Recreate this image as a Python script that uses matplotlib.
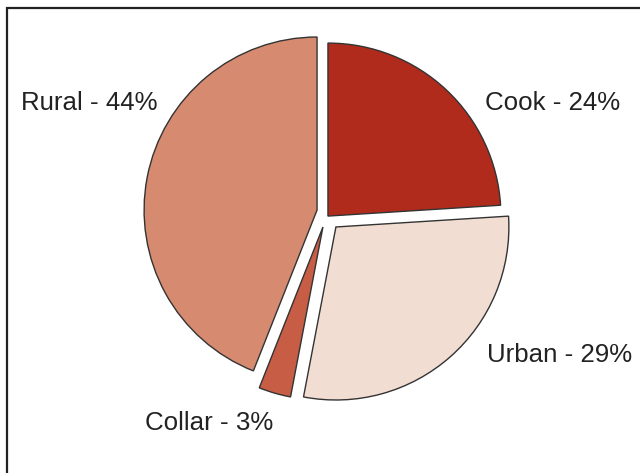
import matplotlib.pyplot as plt
from matplotlib.patches import Rectangle

# data
labels = ["Cook", "Urban", "Collar", "Rural"]
shares = [24, 29, 3, 44]
colors = ["#B02B1C", "#F2DDD3", "#C65D44", "#D68A70"]

# how far each slice is pulled out of the pie (data units, radius = 1)
shift_x = [0.023, 0.069, -0.006, -0.040]
shift_y = [0.017, -0.046, -0.046, 0.052]

# label placement
label_x = [0.93, 0.942, -1.035, -0.96]
label_y = [0.632, -0.827, -1.22, 0.632]
label_ha = ["left", "left", "left", "right"]

plt.rcParams["font.family"] = ["Liberation Sans", "DejaVu Sans"]

fig = plt.figure(figsize=(6.4, 4.73), dpi=100)
ax = fig.add_axes([0, 0, 1, 1])

wedges, _ = ax.pie(shares, colors=colors, startangle=90,
                   counterclock=False, radius=1,
                   wedgeprops=dict(edgecolor="#333333", linewidth=1.0))
for w, dx, dy in zip(wedges, shift_x, shift_y):
    w.set_center((dx, dy))

for name, s, x, y, ha in zip(labels, shares, label_x, label_y, label_ha):
    ax.text(x, y, f"{name} - {s}%", ha=ha, va="baseline",
            fontsize=18.6, color="#222222")

ax.set_xlim(-1.873, 1.827)
ax.set_ylim(-1.468, 1.266)
ax.set_aspect("auto")
ax.axis("off")

# frame (runs off the right and bottom of the picture)
fig.patches.append(Rectangle((6.5 / 640, -0.05), 1.1, 1 - 8 / 473 + 0.05,
                             transform=fig.transFigure, fill=False,
                             edgecolor="#222222", linewidth=1.6))

fig.savefig("out.png", dpi=100)
